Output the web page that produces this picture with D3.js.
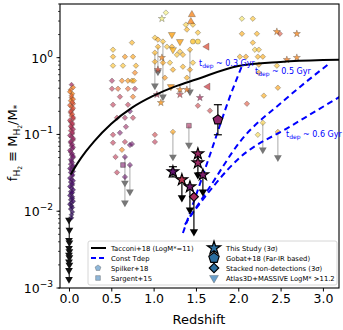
<!DOCTYPE html>
<html>
<head>
<meta charset="utf-8">
<script src="https://cdn.jsdelivr.net/npm/d3@7"></script>
<style>
  body { margin: 0; background: #fff; }
  text { font-family: "DejaVu Sans", sans-serif; }
</style>
</head>
<body>
<script>
// Tacconi+18 scaling (LogM*=11)
var tacZ = [0.02, 0.1, 0.2, 0.3, 0.5, 0.75, 1.0, 1.25, 1.5, 2.0, 2.5, 3.0, 3.2]
var tacF = [0.030, 0.042, 0.060, 0.082, 0.138, 0.225, 0.32, 0.42, 0.52, 0.78, 0.88, 0.93, 0.94]

// constant depletion time tracks
var td03Z = [1.346, 1.665, 1.901, 2.054], td03F = [0.0052, 0.054, 0.31, 0.835]
var td05Z = [1.370, 1.665, 2.019, 2.55, 3.058], td05F = [0.0067, 0.0208, 0.080, 0.283, 0.811]
var td06Z = [1.429, 2.019, 2.609, 3.2], td06F = [0.0085, 0.050, 0.126, 0.31]

// local galaxies, z ~ 0
var stripZ = [0.03,0.02,0.04,0.03,0.02,0.05,0.03,0.04,0.02,0.03,0.05,0.02,0.04,0.03,0.02,0.04,0.03,0.05,0.02,0.03,0.04,0.02,0.03,0.05,0.03,0.02,0.04,0.03,0.02,0.04,0.03,0.02,0.04,0.03,0.02,0.03,0.04,0.02,0.03,0.03,0.02,0.04,0.03,0.03]
var stripF = [0.445,0.383,0.340,0.301,0.275,0.251,0.230,0.210,0.192,0.175,0.160,0.146,0.134,0.122,0.112,0.102,0.093,0.085,0.078,0.071,0.065,0.059,0.054,0.050,0.045,0.041,0.038,0.035,0.032,0.029,0.026,0.024,0.022,0.020,0.018,0.017,0.0154,0.0141,0.0129,0.0118,0.0107,0.0098,0.0090,0.0082]
var stripC = [0.45,0.68,0.72,0.66,0.7,0.62,0.66,0.6,0.58,0.62,0.55,0.52,0.5,0.48,0.5,0.45,0.42,0.44,0.4,0.38,0.36,0.38,0.34,0.32,0.3,0.3,0.28,0.27,0.26,0.25,0.24,0.23,0.22,0.21,0.2,0.2,0.19,0.18,0.18,0.17,0.17,0.16,0.16,0.15]
var stripZ2 = [0.05,0.01,0.03,0.05,0.04,0.01,0.05,0.02,0.04,0.05,0.01,0.04,0.02,0.05,0.04,0.01,0.05,0.02,0.04,0.05,0.01,0.04,0.05,0.02,0.04,0.05,0.01,0.05,0.04,0.01,0.05,0.04,0.01,0.05,0.04,0.01,0.04,0.05,0.01,0.04]
var stripF2 = [0.41,0.36,0.32,0.288,0.263,0.24,0.22,0.20,0.183,0.167,0.153,0.14,0.128,0.117,0.107,0.097,0.089,0.081,0.074,0.068,0.062,0.056,0.052,0.047,0.043,0.039,0.036,0.033,0.030,0.027,0.025,0.023,0.021,0.019,0.0175,0.016,0.0147,0.0135,0.0123,0.0112]
var stripC2 = [0.7,0.7,0.65,0.68,0.62,0.64,0.6,0.58,0.6,0.55,0.52,0.5,0.5,0.46,0.46,0.43,0.42,0.4,0.38,0.37,0.36,0.34,0.33,0.31,0.3,0.28,0.27,0.26,0.25,0.24,0.23,0.22,0.21,0.2,0.2,0.19,0.18,0.18,0.17,0.16]

// Atlas3D+MASSIVE upper limits
var atlasZ = [0.0,0.005,0.0,0.005,0.0,0.005,0.0,0.005,0.0,0.005,0.0,0.0]
var atlasF = [0.0077,0.0057,0.0042,0.0039,0.0033,0.0030,0.0027,0.0025,0.0022,0.0020,0.0017,0.0013]

// literature compilation: diamonds
var litDZ = [0.52,0.744,0.52,0.661,0.756,0.52,0.638,0.791,0.779,0.508,0.626,0.697,0.744,0.767,0.508,0.579,0.697,0.779,0.602,0.756,0.52,0.697,0.72,0.567,0.661,0.756,0.673,0.52,0.602,0.661,0.52,0.72,0.744,0.626,0.55,0.661,0.72,0.567,0.661,
  1.145,1.381,1.464,1.523,1.393,1.015,1.051,1.110,1.051,1.157,1.216,1.311,1.015,1.275,1.346,1.015,1.110,1.192,1.464,1.346,1.228,1.429,1.393,1.133,1.523,1.665,1.015,1.015,1.228,1.429,
  2.043,2.172,2.043,2.220,2.491,2.172,2.196,2.243,2.019,2.090,2.231,2.290,2.243,2.456,2.243,2.468,2.302,2.102,2.290,2.468,2.231]
var litDF = [1.27,1.57,1.03,1.03,1.03,0.787,0.787,0.787,0.637,0.501,0.501,0.501,0.501,0.501,0.394,0.394,0.394,0.394,0.31,0.31,0.244,0.244,0.20,0.165,0.165,0.165,0.126,0.099,0.105,0.08,0.078,0.073,0.075,0.063,0.051,0.051,0.040,0.032,0.028,
  3.86,2.69,2.69,2.12,2.32,1.82,1.72,1.62,1.39,1.39,1.39,1.20,1.16,1.09,1.09,0.887,0.861,0.861,0.861,0.763,0.698,0.698,0.548,0.548,0.237,0.204,0.099,0.080,0.108,1.27,
  3.22,3.22,2.05,2.05,2.05,1.57,1.27,1.27,1.03,1.03,1.03,1.03,0.811,0.787,0.637,0.406,0.320,0.251,0.142,0.108,0.099]
var litDC = [0.85,0.82,0.82,0.75,0.78,0.85,0.85,0.82,0.72,0.45,0.72,0.75,0.8,0.8,0.5,0.65,0.65,0.5,0.5,0.7,0.5,0.5,0.3,0.5,0.45,0.5,0.42,0.5,0.35,0.5,0.5,0.3,0.32,0.72,0.5,0.3,0.3,0.5,0.3,
  0.95,0.88,0.85,0.85,0.82,0.85,0.8,0.85,0.82,0.85,0.8,0.85,0.82,0.85,0.82,0.8,0.78,0.85,0.85,0.82,0.8,0.78,0.8,0.75,0.55,0.55,0.55,0.5,0.78,0.82,
  0.92,0.85,0.8,0.82,0.6,0.82,0.88,0.85,0.82,0.78,0.82,0.8,0.8,0.85,0.78,0.78,0.8,0.6,0.88,0.82,0.9]
// literature: stars, triangles, circles, squares
var litSZ = [1.098,1.098,1.051,1.311,1.393,1.086,1.311,1.039,1.547,2.456,2.692,2.574,2.692]
var litSF = [3.22,1.0,0.698,0.383,0.383,0.259,0.330,0.330,0.301,2.18,2.05,0.94,1.0]
var litSC = [0.95,0.72,0.6,0.72,0.7,0.75,0.55,0.5,0.45,0.72,0.72,0.7,0.72]
var litVZ = [1.216,1.311,1.228,1.204], litVF = [2.00,1.62,1.27,0.419], litVC = [0.78,0.78,0.82,0.75]
var litUZ = [1.452,1.44], litUF = [3.64,2.95], litUC = [0.72,0.72]
var litOZ = [1.464,1.523], litOF = [1.62,1.62], litOC = [0.85,0.88]
var litLZ = [1.629,1.641], litLF = [1.39,0.419], litLC = [0.6,0.55]
var sargZ = [1.417,0.638], sargF = [0.130,0.040], sargC = [0.45,0.35]

// grey upper-limit arrows (from, to)
var limZ  = [1.051,1.015,1.110,1.429,1.228,1.417,2.290,2.468,0.661,0.72,0.661]
var limF0 = [1.39,1.16,1.62,1.27,0.108,0.130,0.142,0.108,0.028,0.040,0.051]
var limF1 = [0.657,0.431,0.310,0.360,0.051,0.073,0.063,0.050,0.0129,0.0179,0.0234]

// This study (3 sigma)
var studyZ = [1.228,1.334,1.429,1.523,1.523,1.582]
var studyF = [0.0327,0.0257,0.0208,0.056,0.0428,0.0298]
var studyC = [0.28,0.5,0.32,0.42,0.42,0.35]
var studyLim = [null,0.015,0.0104,null,0.0298,0.0179]
var studyErr = [[0.028,0.038],null,null,null,null,null]
// stacked non-detection, Gobat+18
var stackZ = [1.476], stackF = [0.0154], stackLim = [0.0054]
var gobZ = [1.759], gobF = [0.155], gobLo = [0.099], gobHi = [0.244]

var w = 343, h = 330
var x = d3.scaleLinear().domain([-0.106, 3.19]).range([60, 339])
var y = d3.scaleLog().domain([1e-3, 5]).range([288, 4])
var col = d3.interpolateInferno

var svg = d3.select('body').append('svg').attr('width', w).attr('height', h)
svg.append('defs').append('clipPath').attr('id', 'clip')
  .append('rect').attr('x', 60).attr('y', 4).attr('width', 279).attr('height', 284)
var plot = svg.append('g').attr('clip-path', 'url(#clip)')

var pentagon = {
  draw: function (ctx, size) {
    var r = Math.sqrt(size / 2.378)
    for (var i = 0; i < 5; i++) {
      var a = -Math.PI / 2 + i * 2 * Math.PI / 5
      if (i == 0) ctx.moveTo(r * Math.cos(a), r * Math.sin(a))
      else ctx.lineTo(r * Math.cos(a), r * Math.sin(a))
    }
    ctx.closePath()
  }
}

function pts(g, zs, fs, cs, type, size, rot, op, sw, edge) {
  g.selectAll(null).data(d3.range(zs.length)).enter().append('path')
    .attr('d', d3.symbol().type(type).size(size))
    .attr('transform', function (i) { return 'translate(' + x(zs[i]) + ',' + y(fs[i]) + ') rotate(' + rot + ')' })
    .attr('fill', function (i) { return typeof cs == 'string' ? cs : col(cs[i]) })
    .attr('fill-opacity', op)
    .attr('stroke', edge || '#333').attr('stroke-opacity', edge ? 1 : 0.6).attr('stroke-width', sw)
}

// grey limit lines
plot.selectAll(null).data(d3.range(limZ.length)).enter().append('line')
  .attr('x1', function (i) { return x(limZ[i]) }).attr('x2', function (i) { return x(limZ[i]) })
  .attr('y1', function (i) { return y(limF0[i]) }).attr('y2', function (i) { return y(limF1[i]) })
  .attr('stroke', '#aaa').attr('stroke-width', 1)
pts(plot, limZ, limF1, '#777', d3.symbolTriangle, 26, 180, 1, 0)

// local strip + atlas
plot.append('line').attr('x1', x(0.003)).attr('x2', x(0.003)).attr('y1', y(0.0085)).attr('y2', y(0.0012))
  .attr('stroke', '#000').attr('stroke-width', 1)
pts(plot, atlasZ, atlasF, '#111', d3.symbolTriangle, 26, 180, 1, 0)
pts(plot, stripZ, stripF, stripC, d3.symbolSquare, 12, 45, 0.75, 0.5)
pts(plot, stripZ2, stripF2, stripC2, d3.symbolSquare, 12, 45, 0.75, 0.5)

// literature
pts(plot, litDZ, litDF, litDC, d3.symbolSquare, 15, 45, 0.6, 0.5)
pts(plot, litSZ, litSF, litSC, d3.symbolStar, 16, 0, 0.75, 0.5)
pts(plot, litVZ, litVF, litVC, d3.symbolTriangle, 22, 180, 0.75, 0.5)
pts(plot, litUZ, litUF, litUC, d3.symbolTriangle, 22, 0, 0.75, 0.5)
pts(plot, litOZ, litOF, litOC, d3.symbolCircle, 20, 0, 0.75, 0.5)
pts(plot, litLZ, litLF, litLC, d3.symbolTriangle, 22, -90, 0.75, 0.5)
pts(plot, sargZ, sargF, sargC, d3.symbolSquare, 22, 0, 0.6, 0.7)

// Tacconi curve
var line = d3.line().curve(d3.curveMonotoneX)
plot.append('path').attr('d', line(tacZ.map(function (z, i) { return [x(z), y(tacF[i])] })))
  .attr('fill', 'none').attr('stroke', '#000').attr('stroke-width', 2)

// const tdep tracks
;[[td03Z, td03F], [td05Z, td05F], [td06Z, td06F]].forEach(function (t) {
  plot.append('path').attr('d', line(t[0].map(function (z, i) { return [x(z), y(t[1][i])] })))
    .attr('fill', 'none').attr('stroke', '#0000ff').attr('stroke-width', 2).attr('stroke-dasharray', '6,4')
})

// this study, stack, Gobat
function errbar(zv, lo, hi, cap) {
  plot.append('line').attr('x1', x(zv)).attr('x2', x(zv)).attr('y1', y(lo)).attr('y2', y(hi)).attr('stroke', '#000').attr('stroke-width', 1.2)
  if (cap) [lo, hi].forEach(function (v) {
    plot.append('line').attr('x1', x(zv) - 4).attr('x2', x(zv) + 4).attr('y1', y(v)).attr('y2', y(v)).attr('stroke', '#000').attr('stroke-width', 1.2)
  })
}
studyZ.forEach(function (z, i) {
  if (studyLim[i]) errbar(z, studyLim[i], studyF[i], false)
  if (studyErr[i]) errbar(z, studyErr[i][0], studyErr[i][1], true)
})
errbar(stackZ[0], stackLim[0], stackF[0], false)
errbar(gobZ[0], gobLo[0], gobHi[0], true)
var sLimZ = studyZ.filter(function (z, i) { return studyLim[i] }).concat(stackZ)
var sLimF = studyLim.filter(function (v) { return v }).concat(stackLim)
pts(plot, sLimZ, sLimF, '#000', d3.symbolTriangle, 30, 180, 1, 0)
pts(plot, gobZ, gobF, [0.38], pentagon, 60, 0, 1, 1.1, '#000')
pts(plot, stackZ, stackF, [0.45], d3.symbolSquare, 40, 45, 1, 1.1, '#000')
pts(plot, studyZ, studyF, studyC, d3.symbolStar, 42, 0, 1, 1.1, '#000')

// axes
var xa = svg.append('g').attr('transform', 'translate(0,288)')
  .call(d3.axisBottom(x).tickValues([0, 0.5, 1, 1.5, 2, 2.5, 3]).tickFormat(d3.format('.1f')).tickSize(3.5).tickPadding(3))
xa.select('.domain').remove()
xa.selectAll('text').attr('font-size', 12.5).attr('font-family', 'DejaVu Sans').attr('fill', '#000')

var minor = y.ticks().filter(function (v) { return v <= 5 })
svg.append('g').selectAll('line').data(minor).enter().append('line')
  .attr('x1', 60).attr('x2', 58).attr('y1', function (d) { return y(d) }).attr('y2', function (d) { return y(d) })
  .attr('stroke', '#000').attr('stroke-width', 0.7)
var major = [1e-3, 1e-2, 1e-1, 1]
svg.append('g').selectAll('line').data(major).enter().append('line')
  .attr('x1', 60).attr('x2', 56.5).attr('y1', function (d) { return y(d) }).attr('y2', function (d) { return y(d) })
  .attr('stroke', '#000').attr('stroke-width', 0.9)
var yl = svg.append('g').selectAll('text').data(major).enter().append('text')
  .attr('x', 53).attr('y', function (d) { return y(d) + 5 }).attr('text-anchor', 'end').attr('font-size', 12.5)
yl.append('tspan').text('10')
yl.append('tspan').attr('dy', -6).attr('font-size', 9).text(function (d) { var e = Math.round(Math.log10(d)); return e < 0 ? '\u2212' + (-e) : e })

svg.append('rect').attr('x', 60).attr('y', 4).attr('width', 279).attr('height', 284)
  .attr('fill', 'none').attr('stroke', '#000').attr('stroke-width', 1.1)

svg.append('text').attr('x', 199).attr('y', 324).attr('text-anchor', 'middle').attr('font-size', 13).text('Redshift')
var ylab = svg.append('text').attr('transform', 'translate(17,143) rotate(-90)').attr('text-anchor', 'middle').attr('font-size', 13)
ylab.append('tspan').text('f')
ylab.append('tspan').attr('dy', 3).attr('font-size', 9).text('H')
ylab.append('tspan').attr('dy', 2).attr('font-size', 6).text('2')
ylab.append('tspan').attr('dy', -5).text(' \u2261 M')
ylab.append('tspan').attr('dy', 3).attr('font-size', 9).text('H')
ylab.append('tspan').attr('dy', 2).attr('font-size', 6).text('2')
ylab.append('tspan').attr('dy', -5).text('/M')
ylab.append('tspan').attr('dy', 3).attr('font-size', 9).text('*')

// tdep labels
function tdep(px, py, s) {
  var t = svg.append('text').attr('x', px).attr('y', py).attr('font-size', 8).attr('fill', '#0000ff')
  t.append('tspan').text('t')
  t.append('tspan').attr('dy', 2).attr('font-size', 6).text('dep')
  t.append('tspan').attr('dy', -2).text(' ~ ' + s + ' Gyr')
}
tdep(199, 66, '0.3')
tdep(255, 74, '0.5')
tdep(286, 137, '0.6')

// legend
var lg = svg.append('g')
lg.append('rect').attr('x', 88).attr('y', 241).attr('width', 249).attr('height', 44).attr('rx', 2)
  .attr('fill', '#fff').attr('fill-opacity', 0.85).attr('stroke', '#ccc').attr('stroke-width', 0.8)
var rows = [248, 258, 268, 278]
lg.append('line').attr('x1', 91).attr('x2', 106).attr('y1', rows[0]).attr('y2', rows[0]).attr('stroke', '#000').attr('stroke-width', 2)
lg.append('line').attr('x1', 91).attr('x2', 106).attr('y1', rows[1]).attr('y2', rows[1]).attr('stroke', '#0000ff').attr('stroke-width', 2).attr('stroke-dasharray', '5,3')
var lsym = [[pentagon, 22, 0, '#8fb7d9', 98, rows[2]], [d3.symbolSquare, 22, 0, '#8fb7d9', 98, rows[3]],
  [d3.symbolStar, 55, 0, '#2c6fa0', 214, rows[0]], [pentagon, 70, 0, '#2c6fa0', 214, rows[1]],
  [d3.symbolSquare, 45, 45, '#2c6fa0', 214, rows[2]], [d3.symbolTriangle, 34, 180, '#6aa0cc', 214, rows[3]]]
lsym.forEach(function (s, i) {
  lg.append('path').attr('d', d3.symbol().type(s[0]).size(s[1]))
    .attr('transform', 'translate(' + s[4] + ',' + s[5] + ') rotate(' + s[2] + ')')
    .attr('fill', s[3]).attr('stroke', i < 2 || i == 5 ? '#555' : '#000').attr('stroke-width', i < 2 || i == 5 ? 0.4 : 1.2)
})
var ltext = [['Tacconi+18 (LogM*=11)', 111, rows[0]], ['Const Tdep', 111, rows[1]], ['Spilker+18', 111, rows[2]], ['Sargent+15', 111, rows[3]],
  ['This Study (3\u03c3)', 226, rows[0]], ['Gobat+18 (Far-IR based)', 226, rows[1]], ['Stacked non-detections (3\u03c3)', 226, rows[2]], ['Atlas3D+MASSIVE LogM* >11.2', 226, rows[3]]]
lg.selectAll(null).data(ltext).enter().append('text')
  .attr('x', function (d) { return d[1] }).attr('y', function (d) { return d[2] + 3 })
  .attr('font-size', 6.8).text(function (d) { return d[0] })
</script>
</body>
</html>
